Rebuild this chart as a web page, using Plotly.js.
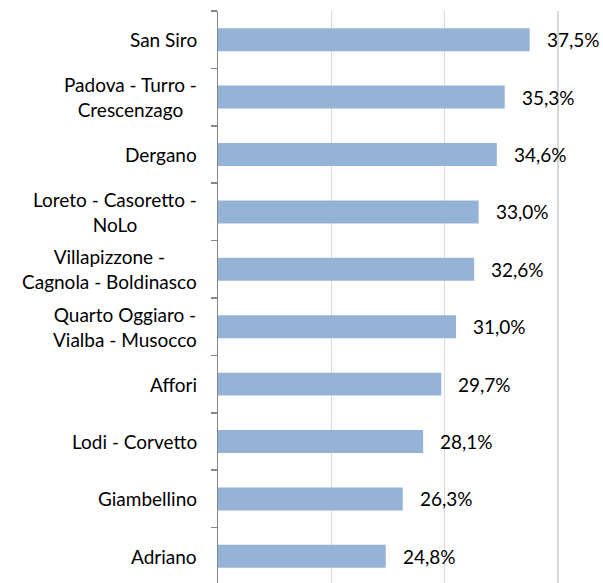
<!DOCTYPE html>
<html>
<head>
<meta charset="utf-8">
<script src="https://cdn.plot.ly/plotly-3.0.1.min.js"></script>
<style>html,body{margin:0;padding:0;background:#fff;}#chart{width:603px;height:583px;}</style>
</head>
<body>
<div id="chart"></div>
<script>
const categories = ["San Siro","Padova - Turro - Crescenzago","Dergano","Loreto - Casoretto - NoLo","Villapizzone - Cagnola - Boldinasco","Quarto Oggiaro - Vialba - Musocco","Affori","Lodi - Corvetto","Giambellino","Adriano"];
const labelLines = ["San Siro","Padova - Turro -<br>Crescenzago","Dergano","Loreto - Casoretto -<br>NoLo","Villapizzone -<br>Cagnola - Boldinasco","Quarto Oggiaro -<br>Vialba - Musocco","Affori","Lodi - Corvetto","Giambellino","Adriano"];
const values = [37.5,35.3,34.6,33.0,32.6,31.0,29.7,28.1,26.3,24.8];
const axisStart = 10;
const valueLabels = values.map(v => v.toFixed(1).replace('.', ',') + '%');

const FONT = {family: 'Lato, "Open Sans", sans-serif', size: 19, color: '#000'};

const trace = {
  type: 'bar', orientation: 'h',
  x: values.map(v => v - axisStart), y: categories,
  base: axisStart,
  marker: {color: '#95B3D7', line: {width: 0}},
  width: 0.4,
  hoverinfo: 'none'
};

const annotations = [];
categories.forEach((c, i) => {
  annotations.push({xref: 'paper', yref: 'y', x: 0, y: c, xanchor: 'right', yanchor: 'middle',
    xshift: -19, text: labelLines[i], showarrow: false, align: 'center', font: FONT});
  annotations.push({xref: 'x', yref: 'y', x: values[i], y: c, xanchor: 'left', yanchor: 'middle',
    xshift: 15, text: valueLabels[i], showarrow: false, font: FONT});
});

const layout = {
  width: 603, height: 583,
  margin: {l: 218, r: 11, t: 11, b: 0, pad: 0},
  paper_bgcolor: '#fff', plot_bgcolor: '#fff',
  showlegend: false,
  xaxis: {range: [10, 43], tick0: 0, dtick: 10, showgrid: true, gridcolor: '#d9d9d9', gridwidth: 1.5,
    showticklabels: false, zeroline: false, showline: false, ticks: '', fixedrange: true},
  yaxis: {type: 'category', range: [9.465, -0.5], showline: true, linecolor: '#868686', linewidth: 1.5,
    ticks: 'outside', tickson: 'boundaries', ticklen: 6, tickcolor: '#868686', tickwidth: 1.5,
    showticklabels: false, showgrid: false, zeroline: false, fixedrange: true},
  annotations: annotations,
  font: FONT
};

Plotly.newPlot('chart', [trace], layout, {displayModeBar: false, staticPlot: true});
</script>
</body>
</html>
